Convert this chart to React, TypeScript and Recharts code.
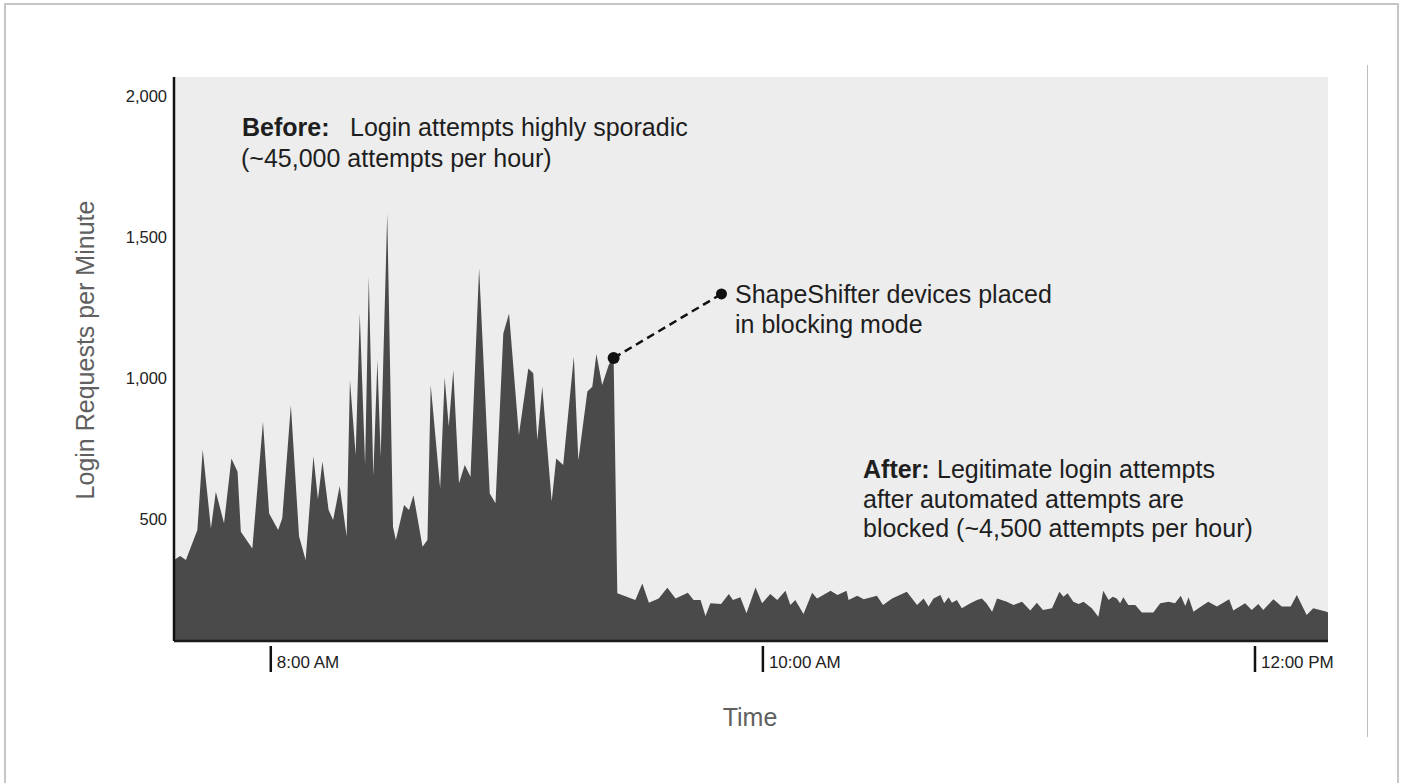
import { AreaChart, Area, XAxis, YAxis, CartesianGrid, ReferenceDot, ReferenceLine } from "recharts";

const FONT = '"Liberation Sans", Arial, Helvetica, sans-serif';

// minute of day (8:00 AM = 480) and login requests per minute
const beforeMinutes = [
  456.4, 457.9, 459.3, 462.1, 463.4, 465.4, 466.6, 468.6, 470.4, 471.9,
  472.7, 475.5, 478.1, 479.6, 481.8, 482.8, 484.9, 486.9, 488.5, 490.4,
  491.5, 492.6, 494.1, 495.2, 496.8, 498.5, 499.3, 500.7, 501.7, 503.0,
  503.9, 505.0, 506.0, 506.8, 508.4, 509.8, 510.5, 512.5, 513.7, 514.8,
  517.0, 518.2, 519.0, 521.3, 522.4, 523.4, 524.5, 525.9, 527.3, 528.7,
  530.8, 533.4, 534.8, 536.7, 538.1, 540.5, 542.8, 544.0, 545.0, 546.2,
  548.5, 549.6, 551.3, 553.9, 555.0, 557.2, 558.4, 559.4, 560.8, 562.4,
  563.6, 564.5,
];
const beforeRequests = [
  356, 370, 356, 462, 748, 468, 598, 486, 716, 669,
  456, 397, 846, 521, 462, 504, 905, 439, 356, 725,
  571, 705, 533, 498, 618, 439, 994, 728, 1230, 693,
  1360, 654, 1065, 722, 1585, 474, 427, 551, 533, 586,
  403, 427, 976, 610, 1003, 829, 1029, 628, 693, 651,
  1390, 592, 557, 1159, 1230, 799, 1035, 1018, 781, 970,
  563, 716, 693, 1077, 710, 953, 970, 1086, 976, 1047,
  1072, 238,
];

const afterMinutes = [
  568.9, 570.6, 572.2, 574.6, 576.7, 578.7, 581.7, 583.1, 584.8, 586.0,
  587.2, 589.8, 591.7, 592.7, 594.5, 596.0, 598.2, 599.8, 601.8, 603.5,
  605.5, 606.7, 607.9, 609.9, 612.0, 613.2, 614.4, 616.5, 618.2, 620.4,
  620.9, 623.0, 624.6, 627.8, 629.3, 631.5, 635.1, 637.6, 639.2, 640.4,
  641.6, 643.3, 644.2, 645.3, 646.1, 647.3, 648.5, 650.6, 652.2, 653.4,
  654.5, 655.9, 657.1, 659.5, 661.1, 663.2, 665.2, 666.8, 668.3, 670.5,
  672.3, 673.3, 674.3, 675.7, 677.0, 678.2, 680.2, 681.8, 683.0, 684.3,
  685.3, 686.3, 687.1, 687.9, 689.1, 690.8, 692.4, 695.2, 696.9, 698.9,
  700.5, 701.9, 703.0, 703.8, 705.0, 706.2, 708.6, 710.7, 713.7, 714.7,
  717.6, 719.2, 720.8, 722.0, 724.5, 726.5, 728.7, 730.2, 732.6, 734.2,
  737.5, 737.8,
];
const afterRequests = [
  214, 273, 205, 220, 258, 220, 240, 214, 214, 158,
  203, 200, 236, 214, 224, 167, 259, 203, 236, 214,
  247, 197, 214, 165, 240, 220, 229, 247, 232, 247,
  214, 229, 217, 229, 197, 220, 244, 197, 220, 191,
  220, 232, 203, 224, 205, 214, 185, 203, 214, 220,
  203, 173, 220, 208, 197, 208, 177, 205, 179, 185,
  244, 226, 238, 208, 200, 208, 185, 155, 247, 214,
  226, 220, 203, 224, 197, 197, 170, 170, 203, 208,
  203, 229, 193, 224, 173, 185, 208, 191, 217, 177,
  203, 179, 200, 179, 217, 191, 191, 232, 161, 185,
  173, 170,
];

const timeTicks = [480, 600, 720];
const requestTicks = [500, 1000, 1500, 2000];

// where the devices were switched to blocking, and where its note sits
const switchPoint = { minute: 563.6, requests: 1072 };
const notePoint = { minute: 589.9, requests: 1299 };

const data = [
  ...beforeMinutes.map((m, i) => ({ minute: m, requests: beforeRequests[i] })),
  ...afterMinutes.map((m, i) => ({ minute: m, requests: afterRequests[i] })),
];

function formatClock(m: number) {
  const h = Math.floor(m / 60);
  const mm = Math.round(m % 60);
  const suffix = h >= 12 ? "PM" : "AM";
  const h12 = h % 12 === 0 ? 12 : h % 12;
  return `${h12}:${String(mm).padStart(2, "0")} ${suffix}`;
}

const TimeTick = ({ x, y, payload }: any) => (
  <g>
    <line x1={x} x2={x} y1={y + 5} y2={y + 31} stroke="#111" strokeWidth={2.5} />
    <text x={x + 6} y={y + 27} fontSize={17} fill="#222" fontFamily={FONT}>
      {formatClock(payload.value)}
    </text>
  </g>
);

export default function App() {
  return (
    <div
      style={{
        position: "absolute",
        left: 0,
        top: 0,
        width: 1401,
        height: 783,
        overflow: "hidden",
        background: "#fff",
        fontFamily: FONT,
      }}
    >
      <div
        style={{
          position: "absolute",
          left: 4,
          top: 3,
          width: 1391,
          height: 800,
          border: "2px solid #c6c6c6",
        }}
      />
      <div style={{ position: "absolute", left: 1367, top: 65, height: 672, borderLeft: "1.5px solid #bdbdbd" }} />

      <div style={{ position: "absolute", left: 0, top: 0 }}>
        <AreaChart width={1401} height={783} data={data} margin={{ top: 77, right: 73, bottom: 82, left: 0 }}>
          <CartesianGrid fill="#ededed" horizontal={false} vertical={false} />
          <XAxis
            dataKey="minute"
            type="number"
            domain={[456.4, 737.8]}
            ticks={timeTicks}
            allowDataOverflow
            interval={0}
            height={60}
            tickSize={0}
            tickMargin={0}
            tickLine={false}
            tick={<TimeTick />}
            axisLine={{ stroke: "#1a1a1a", strokeWidth: 2.5 }}
          />
          <YAxis
            type="number"
            domain={[69, 2068]}
            ticks={requestTicks}
            allowDataOverflow
            interval={0}
            width={174}
            tickLine={false}
            tickSize={0}
            tickMargin={7}
            tick={{ fontSize: 16.5, fill: "#222", fontFamily: FONT }}
            tickFormatter={(v: number) => v.toLocaleString("en-US")}
            axisLine={{ stroke: "#111", strokeWidth: 2.5 }}
          />
          <Area
            type="linear"
            dataKey="requests"
            fill="#4a4a4a"
            fillOpacity={1}
            stroke="none"
            dot={false}
            activeDot={false}
            isAnimationActive={false}
          />
          <ReferenceLine
            segment={[
              { x: switchPoint.minute, y: switchPoint.requests },
              { x: notePoint.minute, y: notePoint.requests },
            ]}
            stroke="#111"
            strokeWidth={2.5}
            strokeDasharray="8 5"
            ifOverflow="visible"
          />
          <ReferenceDot x={switchPoint.minute} y={switchPoint.requests} r={6} fill="#111" stroke="none" ifOverflow="visible" />
          <ReferenceDot x={notePoint.minute} y={notePoint.requests} r={5.5} fill="#111" stroke="none" ifOverflow="visible" />
        </AreaChart>
      </div>

      <svg
        width={1401}
        height={783}
        style={{ position: "absolute", left: 0, top: 0, pointerEvents: "none" }}
        fontFamily={FONT}
      >
        <text x={242} y={136} fontSize={25} fill="#1e1e1e">
          <tspan fontWeight="bold">Before:</tspan>
          <tspan x={350}>Login attempts highly sporadic</tspan>
        </text>
        <text x={241} y={167} fontSize={25} fill="#1e1e1e">
          (~45,000 attempts per hour)
        </text>

        <text x={735} y={303} fontSize={25} fill="#1e1e1e">
          ShapeShifter devices placed
        </text>
        <text x={735} y={333} fontSize={25} fill="#1e1e1e">
          in blocking mode
        </text>

        <text x={863} y={478} fontSize={25} fill="#1e1e1e">
          <tspan fontWeight="bold">After:</tspan>
          <tspan x={937}>Legitimate login attempts</tspan>
        </text>
        <text x={863} y={507.5} fontSize={25} fill="#1e1e1e">
          after automated attempts are
        </text>
        <text x={863} y={536.5} fontSize={25} fill="#1e1e1e">
          blocked (~4,500 attempts per hour)
        </text>

        <text
          x={85}
          y={350}
          fontSize={25}
          fill="#606060"
          textAnchor="middle"
          dominantBaseline="central"
          transform="rotate(-90 85 350)"
        >
          Login Requests per Minute
        </text>
        <text x={750} y={726} fontSize={25} fill="#606060" textAnchor="middle">
          Time
        </text>
      </svg>
    </div>
  );
}
